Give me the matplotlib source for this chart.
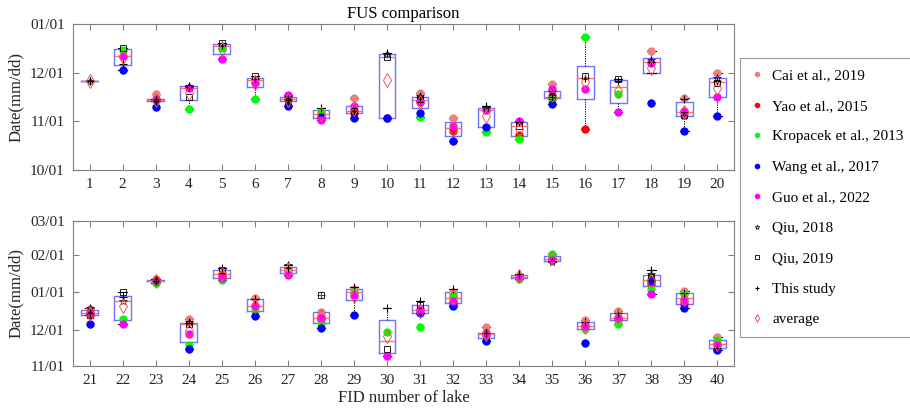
import numpy as np
import matplotlib
matplotlib.use("Agg")
import matplotlib.pyplot as plt

plt.rcParams["font.family"] = ["Liberation Serif", "DejaVu Serif"]

nan = np.nan
lakes = np.arange(1, 41)

# freeze-up start dates, days after 10/01 (lakes 1..40)
cai = [nan, nan, 47.8, nan, nan, 56.5, nan, nan, 45.6, nan,
       48.7, 33, 37.5, nan, 54.2, nan, nan, 75, 45.6, 61.3,
       78.1, nan, 103.3, 69.8, 108, 87.2, 109, 75.3, 94.5, nan,
       77, 92.5, 63.6, 105.3, 120.2, 69.2, 76.7, 103.2, 92.7, 54.8]
yao = [nan, nan, 44.6, nan, nan, nan, 44.8, nan, 35.7, 33,
       43, 24.6, nan, 22, 46, 25.6, nan, nan, 36.5, nan,
       73.5, nan, 102, nan, 105.5, 81, nan, 70, nan, nan,
       nan, 83, 58, nan, nan, 64.8, 70, 99, 82.5, 49.5]
kropacek = [nan, 75.8, nan, 38.6, 76.7, 44.7, nan, 36.8, nan, nan,
            33.6, nan, 23.8, 19.7, 44.5, 84, 47.7, nan, nan, nan,
            nan, 70, 99.4, 48.2, 102.5, 76.1, nan, 66.4, 91.9, 59.2,
            63.6, 90, 54.5, 103.3, 123.8, 61.5, 65.9, 94.7, 90.5, 52.5]
wang = [nan, 63.2, 39.6, nan, nan, nan, 40.3, 33.6, 32.8, 33,
        35.7, 18.5, 26.9, nan, 41.4, nan, nan, 42.4, 24.6, 34,
        65.9, nan, nan, 44.9, nan, 72, nan, 62.8, 72.8, nan,
        74.8, 80.8, 52, nan, nan, 50.4, nan, 101.6, 78.9, 44.3]
guo = [nan, 71.6, 44.3, 51.6, 69.7, 54.6, 47.3, 31.5, 40.3, nan,
       43.5, 28, 37.8, 30.9, 51, 50.8, 36.8, 67.2, 37.2, 46.2,
       75.6, 65.9, 101.5, 57.3, 103.8, 80.8, 106.6, 71.1, 89.4, 39.3,
       78.1, 85, 56.5, 104.5, 119, 63.7, 71.1, 90.8, 84.4, 48.5]
qiu2018 = [56, nan, 44, 53, nan, nan, 45.8, nan, nan, 73.2,
           46.5, nan, 39, nan, 49, nan, nan, 69.3, 34, 58,
           79, 85, 102.5, 67, nan, nan, 114.3, nan, nan, nan,
           nan, nan, nan, nan, 117.1, nan, nan, 107.5, nan, nan]
qiu2019 = [nan, 77, nan, 46.2, 80, 59.2, 43.5, nan, 37, 71,
           45, nan, nan, 27.7, 46.5, 59.2, 57.1, nan, 34.7, 54.5,
           72.8, 92.2, nan, 65.6, 110.7, nan, nan, 90, nan, 44.9,
           81.4, nan, nan, nan, nan, nan, nan, 105, nan, nan]
this_study = [56, 67, 43.6, 52.5, 79, 57.5, 44.3, 38.9, 37.4, 73.5,
              46, nan, 40.3, 30, 46, 58, 56.3, 68, 44.5, 56,
              75, 88.3, 101, 66.5, 112.1, 86.4, 112, nan, 96.3, 78.9,
              85, 95, 58.7, 107.4, nan, 67.5, 74.5, 110.7, 91, 46.2]

series = [
    ("Cai et al., 2019", cai, dict(marker="o", color="#F08080")),
    ("Yao et al., 2015", yao, dict(marker="o", color="red")),
    ("Kropacek et al., 2013", kropacek, dict(marker="o", color="#00FF00")),
    ("Wang et al., 2017", wang, dict(marker="o", color="blue")),
    ("Guo et al., 2022", guo, dict(marker="o", color="magenta")),
    ("Qiu, 2018", qiu2018, dict(marker="*", mfc="none", mec="k", ms=6, mew=0.5)),
    ("Qiu, 2019", qiu2019, dict(marker="s", mfc="none", mec="k", ms=4.5, mew=0.6)),
    ("This study", this_study, dict(marker="+", color="k", ms=6, mew=0.8)),
]

data = np.array([s[1] for s in series], dtype=float)  # 8 x 40
average = np.nanmean(data, axis=0)


def box_stats(vals):
    v = vals[~np.isnan(vals)]
    q1, med, q3 = np.percentile(v, [25, 50, 75], method="hazen")
    iqr = q3 - q1
    lo, hi = q1 - 1.5 * iqr, q3 + 1.5 * iqr
    inside = v[(v >= lo) & (v <= hi)]
    return dict(med=med, q1=q1, q3=q3,
                whislo=min(inside.min(), q1), whishi=max(inside.max(), q3),
                fliers=v[(v < lo) | (v > hi)])


gray = "#808080"
fig = plt.figure(figsize=(9.1, 4.12), dpi=100)
ax_top = fig.add_axes([0.0802, 0.5874, 0.7264, 0.3544])
ax_bot = fig.add_axes([0.0802, 0.1117, 0.7264, 0.3519])

panels = [
    (ax_top, slice(0, 20), (0, 92), [0, 31, 61, 92], ["10/01", "11/01", "12/01", "01/01"]),
    (ax_bot, slice(20, 40), (31, 151), [31, 61, 92, 123, 151],
     ["11/01", "12/01", "01/01", "02/01", "03/01"]),
]

for ax, sl, ylim, yt, ytl in panels:
    pos = lakes[sl]
    stats = [box_stats(data[:, i]) for i in range(sl.start, sl.stop)]
    ax.bxp(stats, positions=pos, widths=0.5, capwidths=0.25, manage_ticks=False,
           boxprops=dict(color=(0.45, 0.45, 1.0), lw=1),
           medianprops=dict(color=(1.0, 0.45, 0.45), lw=1),
           whiskerprops=dict(color="k", ls=(0, (1.2, 1.2)), lw=0.7),
           capprops=dict(color="k", lw=0.8),
           flierprops=dict(marker="+", mec="red", ms=6, mew=0.8))
    for label, vals, style in series:
        st = dict(ls="none", ms=5)
        st.update(style)
        ax.plot(pos, np.asarray(vals, float)[sl], label=label, zorder=3, **st)
    ax.plot(pos, average[sl], ls="none", marker="d", mfc="none", mec="#EE5555",
            ms=7, mew=0.7, label="average", zorder=4)

    ax.set_xlim(pos[0] - 0.5, pos[-1] + 0.5)
    ax.set_ylim(*ylim)
    ax.set_xticks(pos)
    ax.set_xticklabels([str(p) for p in pos])
    ax.set_yticks(yt)
    ax.set_yticklabels(ytl)
    ax.set_ylabel("Date(mm/dd)", fontsize=12, color="#262626")
    ax.tick_params(direction="in", top=True, right=True, length=4, color=gray,
                   labelsize=11, labelcolor="#262626", pad=6)
    for sp in ax.spines.values():
        sp.set_color(gray)
        sp.set_linewidth(0.8)

ax_top.set_title("FUS comparison", fontsize=12, pad=4)
ax_bot.set_xlabel("FID number of lake", fontsize=12, color="#262626", labelpad=2)

handles, labels = ax_top.get_legend_handles_labels()
leg = fig.legend(handles, labels, loc="upper left", bbox_to_anchor=(0.8132, 0.859),
                 fontsize=11, labelspacing=1.1, handlelength=0.8, handletextpad=0.6,
                 markerscale=0.6, borderpad=0.7, fancybox=False, frameon=True,
                 borderaxespad=0)
leg.get_frame().set_edgecolor(gray)
leg.get_frame().set_linewidth(0.8)

fig.savefig("out.png", dpi=100)
